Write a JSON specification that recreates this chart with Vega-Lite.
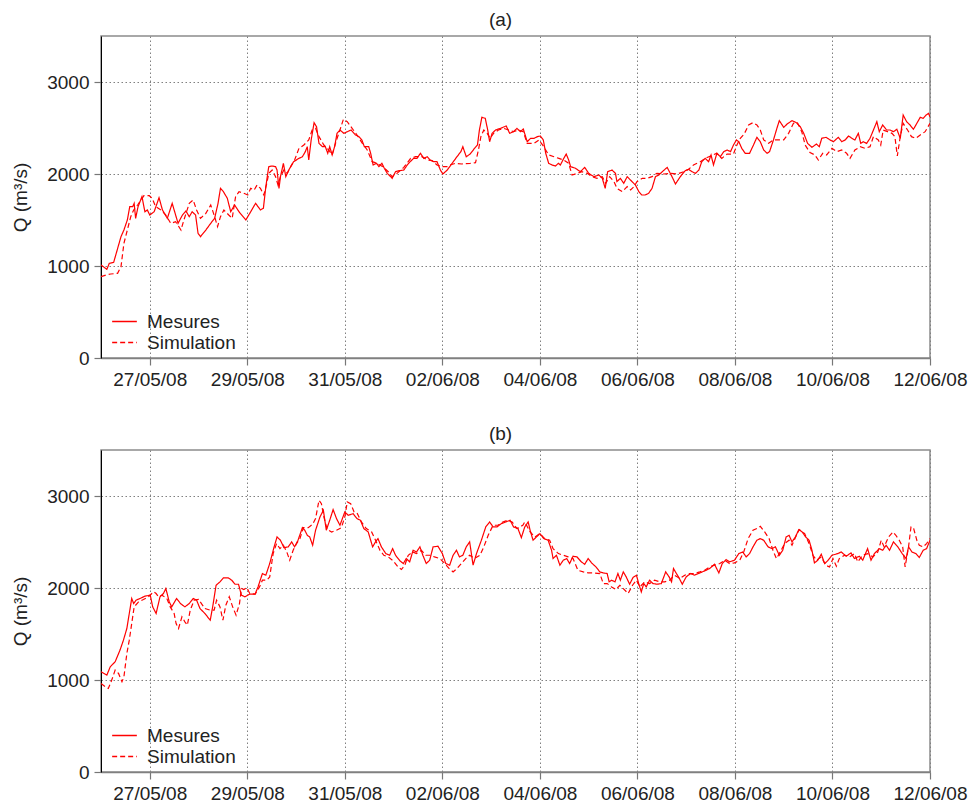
{
"$schema": "https://vega.github.io/schema/vega-lite/v6.json",
"padding": {"left": 10, "top": 10, "right": 5, "bottom": 5},
"config": {
  "font": "Liberation Sans",
  "view": {"stroke": "#8c8c8c", "strokeWidth": 1.5},
  "axis": {"labelFontSize": 19, "labelColor": "#222222", "titleFontSize": 19, "titleFontWeight": "normal", "titleColor": "#222222", "tickColor": "#777777", "tickSize": 7, "tickWidth": 1.2, "domainColor": "#808080", "domainWidth": 1.5, "gridColor": "#808080", "gridDash": [1.5, 2.5], "gridWidth": 1, "labelPadding": 5},
  "title": {"fontSize": 19, "fontWeight": "normal", "color": "#222222", "font": "Liberation Sans"},
  "legend": {"labelFontSize": 19, "labelColor": "#222222", "labelFont": "Liberation Sans"},
  "concat": {"spacing": 34}
},
"resolve": {"legend": {"strokeDash": "independent"}},
"datasets": {
"a": [
{"serie":"Mesures","jour":0,"Q":1011},{"serie":"Mesures","jour":0.12,"Q":964},{"serie":"Mesures","jour":0.17,"Q":1029},{"serie":"Mesures","jour":0.26,"Q":1040},{"serie":"Mesures","jour":0.41,"Q":1319},{"serie":"Mesures","jour":0.47,"Q":1391},{"serie":"Mesures","jour":0.54,"Q":1500},{"serie":"Mesures","jour":0.59,"Q":1645},{"serie":"Mesures","jour":0.65,"Q":1645},{"serie":"Mesures","jour":0.68,"Q":1681},{"serie":"Mesures","jour":0.71,"Q":1518},{"serie":"Mesures","jour":0.76,"Q":1645},{"serie":"Mesures","jour":0.84,"Q":1754},{"serie":"Mesures","jour":0.9,"Q":1590},{"serie":"Mesures","jour":0.95,"Q":1609},{"serie":"Mesures","jour":1.0,"Q":1554},{"serie":"Mesures","jour":1.09,"Q":1590},{"serie":"Mesures","jour":1.19,"Q":1743},{"serie":"Mesures","jour":1.26,"Q":1609},{"serie":"Mesures","jour":1.36,"Q":1518},{"serie":"Mesures","jour":1.46,"Q":1681},{"serie":"Mesures","jour":1.58,"Q":1464},{"serie":"Mesures","jour":1.67,"Q":1554},{"serie":"Mesures","jour":1.74,"Q":1598},{"serie":"Mesures","jour":1.81,"Q":1536},{"serie":"Mesures","jour":1.87,"Q":1590},{"serie":"Mesures","jour":1.94,"Q":1554},{"serie":"Mesures","jour":1.99,"Q":1355},{"serie":"Mesures","jour":2.04,"Q":1319},{"serie":"Mesures","jour":2.15,"Q":1391},{"serie":"Mesures","jour":2.25,"Q":1464},{"serie":"Mesures","jour":2.33,"Q":1518},{"serie":"Mesures","jour":2.4,"Q":1681},{"serie":"Mesures","jour":2.45,"Q":1844},{"serie":"Mesures","jour":2.51,"Q":1808},{"serie":"Mesures","jour":2.59,"Q":1736},{"serie":"Mesures","jour":2.66,"Q":1590},{"serie":"Mesures","jour":2.74,"Q":1663},{"serie":"Mesures","jour":2.83,"Q":1590},{"serie":"Mesures","jour":2.97,"Q":1500},{"serie":"Mesures","jour":3.07,"Q":1590},{"serie":"Mesures","jour":3.17,"Q":1681},{"serie":"Mesures","jour":3.27,"Q":1609},{"serie":"Mesures","jour":3.33,"Q":1627},{"serie":"Mesures","jour":3.38,"Q":1862},{"serie":"Mesures","jour":3.44,"Q":2080},{"serie":"Mesures","jour":3.51,"Q":2087},{"serie":"Mesures","jour":3.58,"Q":2080},{"serie":"Mesures","jour":3.61,"Q":2043},{"serie":"Mesures","jour":3.65,"Q":1844},{"serie":"Mesures","jour":3.68,"Q":1971},{"serie":"Mesures","jour":3.74,"Q":2116},{"serie":"Mesures","jour":3.79,"Q":1971},{"serie":"Mesures","jour":3.85,"Q":2043},{"serie":"Mesures","jour":3.95,"Q":2134},{"serie":"Mesures","jour":4.06,"Q":2170},{"serie":"Mesures","jour":4.13,"Q":2188},{"serie":"Mesures","jour":4.19,"Q":2243},{"serie":"Mesures","jour":4.23,"Q":2297},{"serie":"Mesures","jour":4.26,"Q":2152},{"serie":"Mesures","jour":4.31,"Q":2370},{"serie":"Mesures","jour":4.37,"Q":2558},{"serie":"Mesures","jour":4.42,"Q":2514},{"serie":"Mesures","jour":4.47,"Q":2333},{"serie":"Mesures","jour":4.54,"Q":2297},{"serie":"Mesures","jour":4.6,"Q":2297},{"serie":"Mesures","jour":4.65,"Q":2225},{"serie":"Mesures","jour":4.69,"Q":2297},{"serie":"Mesures","jour":4.74,"Q":2207},{"serie":"Mesures","jour":4.79,"Q":2297},{"serie":"Mesures","jour":4.84,"Q":2442},{"serie":"Mesures","jour":4.9,"Q":2478},{"serie":"Mesures","jour":4.98,"Q":2442},{"serie":"Mesures","jour":5.05,"Q":2460},{"serie":"Mesures","jour":5.13,"Q":2478},{"serie":"Mesures","jour":5.22,"Q":2424},{"serie":"Mesures","jour":5.29,"Q":2406},{"serie":"Mesures","jour":5.35,"Q":2370},{"serie":"Mesures","jour":5.4,"Q":2297},{"serie":"Mesures","jour":5.49,"Q":2297},{"serie":"Mesures","jour":5.53,"Q":2225},{"serie":"Mesures","jour":5.58,"Q":2098},{"serie":"Mesures","jour":5.65,"Q":2116},{"serie":"Mesures","jour":5.7,"Q":2080},{"serie":"Mesures","jour":5.76,"Q":2116},{"serie":"Mesures","jour":5.81,"Q":2062},{"serie":"Mesures","jour":5.87,"Q":2007},{"serie":"Mesures","jour":5.94,"Q":1971},{"serie":"Mesures","jour":5.97,"Q":1953},{"serie":"Mesures","jour":6.04,"Q":2025},{"serie":"Mesures","jour":6.11,"Q":2036},{"serie":"Mesures","jour":6.21,"Q":2043},{"serie":"Mesures","jour":6.28,"Q":2098},{"serie":"Mesures","jour":6.34,"Q":2134},{"serie":"Mesures","jour":6.41,"Q":2170},{"serie":"Mesures","jour":6.48,"Q":2170},{"serie":"Mesures","jour":6.55,"Q":2225},{"serie":"Mesures","jour":6.62,"Q":2170},{"serie":"Mesures","jour":6.69,"Q":2188},{"serie":"Mesures","jour":6.75,"Q":2152},{"serie":"Mesures","jour":6.82,"Q":2134},{"serie":"Mesures","jour":6.89,"Q":2134},{"serie":"Mesures","jour":6.96,"Q":2043},{"serie":"Mesures","jour":7.01,"Q":2000},{"serie":"Mesures","jour":7.1,"Q":2043},{"serie":"Mesures","jour":7.2,"Q":2116},{"serie":"Mesures","jour":7.3,"Q":2188},{"serie":"Mesures","jour":7.38,"Q":2243},{"serie":"Mesures","jour":7.42,"Q":2297},{"serie":"Mesures","jour":7.49,"Q":2188},{"serie":"Mesures","jour":7.57,"Q":2217},{"serie":"Mesures","jour":7.66,"Q":2279},{"serie":"Mesures","jour":7.72,"Q":2315},{"serie":"Mesures","jour":7.76,"Q":2478},{"serie":"Mesures","jour":7.81,"Q":2616},{"serie":"Mesures","jour":7.88,"Q":2605},{"serie":"Mesures","jour":7.93,"Q":2478},{"serie":"Mesures","jour":7.97,"Q":2351},{"serie":"Mesures","jour":8.02,"Q":2442},{"serie":"Mesures","jour":8.09,"Q":2478},{"serie":"Mesures","jour":8.19,"Q":2496},{"serie":"Mesures","jour":8.31,"Q":2522},{"serie":"Mesures","jour":8.38,"Q":2442},{"serie":"Mesures","jour":8.46,"Q":2460},{"serie":"Mesures","jour":8.53,"Q":2496},{"serie":"Mesures","jour":8.6,"Q":2460},{"serie":"Mesures","jour":8.66,"Q":2489},{"serie":"Mesures","jour":8.74,"Q":2351},{"serie":"Mesures","jour":8.81,"Q":2388},{"serie":"Mesures","jour":8.88,"Q":2388},{"serie":"Mesures","jour":8.95,"Q":2406},{"serie":"Mesures","jour":9.01,"Q":2413},{"serie":"Mesures","jour":9.07,"Q":2370},{"serie":"Mesures","jour":9.12,"Q":2225},{"serie":"Mesures","jour":9.18,"Q":2116},{"serie":"Mesures","jour":9.25,"Q":2098},{"serie":"Mesures","jour":9.32,"Q":2087},{"serie":"Mesures","jour":9.38,"Q":2116},{"serie":"Mesures","jour":9.42,"Q":2098},{"serie":"Mesures","jour":9.49,"Q":2170},{"serie":"Mesures","jour":9.54,"Q":2217},{"serie":"Mesures","jour":9.59,"Q":2152},{"serie":"Mesures","jour":9.63,"Q":2080},{"serie":"Mesures","jour":9.73,"Q":2062},{"serie":"Mesures","jour":9.83,"Q":2025},{"serie":"Mesures","jour":9.92,"Q":2072},{"serie":"Mesures","jour":10.0,"Q":2007},{"serie":"Mesures","jour":10.11,"Q":1971},{"serie":"Mesures","jour":10.21,"Q":1989},{"serie":"Mesures","jour":10.28,"Q":1953},{"serie":"Mesures","jour":10.34,"Q":1844},{"serie":"Mesures","jour":10.39,"Q":2025},{"serie":"Mesures","jour":10.48,"Q":2043},{"serie":"Mesures","jour":10.55,"Q":2007},{"serie":"Mesures","jour":10.58,"Q":1917},{"serie":"Mesures","jour":10.65,"Q":1953},{"serie":"Mesures","jour":10.72,"Q":1899},{"serie":"Mesures","jour":10.79,"Q":1971},{"serie":"Mesures","jour":10.89,"Q":1917},{"serie":"Mesures","jour":10.96,"Q":1880},{"serie":"Mesures","jour":11.03,"Q":1808},{"serie":"Mesures","jour":11.09,"Q":1772},{"serie":"Mesures","jour":11.16,"Q":1772},{"serie":"Mesures","jour":11.23,"Q":1790},{"serie":"Mesures","jour":11.3,"Q":1844},{"serie":"Mesures","jour":11.37,"Q":1971},{"serie":"Mesures","jour":11.44,"Q":1989},{"serie":"Mesures","jour":11.51,"Q":2025},{"serie":"Mesures","jour":11.61,"Q":2072},{"serie":"Mesures","jour":11.71,"Q":1971},{"serie":"Mesures","jour":11.78,"Q":1891},{"serie":"Mesures","jour":11.88,"Q":1971},{"serie":"Mesures","jour":11.98,"Q":2036},{"serie":"Mesures","jour":12.05,"Q":2051},{"serie":"Mesures","jour":12.12,"Q":2025},{"serie":"Mesures","jour":12.19,"Q":2007},{"serie":"Mesures","jour":12.26,"Q":2043},{"serie":"Mesures","jour":12.32,"Q":2134},{"serie":"Mesures","jour":12.39,"Q":2170},{"serie":"Mesures","jour":12.46,"Q":2134},{"serie":"Mesures","jour":12.51,"Q":2207},{"serie":"Mesures","jour":12.56,"Q":2098},{"serie":"Mesures","jour":12.63,"Q":2225},{"serie":"Mesures","jour":12.7,"Q":2188},{"serie":"Mesures","jour":12.77,"Q":2243},{"serie":"Mesures","jour":12.84,"Q":2261},{"serie":"Mesures","jour":12.91,"Q":2243},{"serie":"Mesures","jour":12.97,"Q":2315},{"serie":"Mesures","jour":13.03,"Q":2370},{"serie":"Mesures","jour":13.08,"Q":2351},{"serie":"Mesures","jour":13.14,"Q":2279},{"serie":"Mesures","jour":13.21,"Q":2225},{"serie":"Mesures","jour":13.3,"Q":2225},{"serie":"Mesures","jour":13.38,"Q":2315},{"serie":"Mesures","jour":13.45,"Q":2399},{"serie":"Mesures","jour":13.52,"Q":2351},{"serie":"Mesures","jour":13.59,"Q":2261},{"serie":"Mesures","jour":13.66,"Q":2225},{"serie":"Mesures","jour":13.71,"Q":2243},{"serie":"Mesures","jour":13.79,"Q":2370},{"serie":"Mesures","jour":13.86,"Q":2496},{"serie":"Mesures","jour":13.91,"Q":2580},{"serie":"Mesures","jour":14.0,"Q":2507},{"serie":"Mesures","jour":14.07,"Q":2543},{"serie":"Mesures","jour":14.17,"Q":2580},{"serie":"Mesures","jour":14.26,"Q":2558},{"serie":"Mesures","jour":14.34,"Q":2514},{"serie":"Mesures","jour":14.41,"Q":2442},{"serie":"Mesures","jour":14.49,"Q":2333},{"serie":"Mesures","jour":14.58,"Q":2290},{"serie":"Mesures","jour":14.67,"Q":2326},{"serie":"Mesures","jour":14.73,"Q":2297},{"serie":"Mesures","jour":14.78,"Q":2388},{"serie":"Mesures","jour":14.87,"Q":2399},{"serie":"Mesures","jour":14.95,"Q":2370},{"serie":"Mesures","jour":15.02,"Q":2351},{"serie":"Mesures","jour":15.12,"Q":2399},{"serie":"Mesures","jour":15.19,"Q":2351},{"serie":"Mesures","jour":15.26,"Q":2370},{"serie":"Mesures","jour":15.33,"Q":2413},{"serie":"Mesures","jour":15.4,"Q":2388},{"serie":"Mesures","jour":15.46,"Q":2370},{"serie":"Mesures","jour":15.53,"Q":2442},{"serie":"Mesures","jour":15.58,"Q":2333},{"serie":"Mesures","jour":15.63,"Q":2351},{"serie":"Mesures","jour":15.7,"Q":2333},{"serie":"Mesures","jour":15.77,"Q":2388},{"serie":"Mesures","jour":15.84,"Q":2478},{"serie":"Mesures","jour":15.91,"Q":2569},{"serie":"Mesures","jour":15.96,"Q":2460},{"serie":"Mesures","jour":16.03,"Q":2533},{"serie":"Mesures","jour":16.11,"Q":2478},{"serie":"Mesures","jour":16.18,"Q":2478},{"serie":"Mesures","jour":16.25,"Q":2460},{"serie":"Mesures","jour":16.32,"Q":2486},{"serie":"Mesures","jour":16.39,"Q":2388},{"serie":"Mesures","jour":16.45,"Q":2641},{"serie":"Mesures","jour":16.52,"Q":2569},{"serie":"Mesures","jour":16.59,"Q":2533},{"serie":"Mesures","jour":16.66,"Q":2486},{"serie":"Mesures","jour":16.73,"Q":2551},{"serie":"Mesures","jour":16.8,"Q":2616},{"serie":"Mesures","jour":16.86,"Q":2605},{"serie":"Mesures","jour":16.92,"Q":2641},{"serie":"Mesures","jour":16.97,"Q":2659},{"serie":"Mesures","jour":17.0,"Q":2620},
{"serie":"Simulation","jour":0,"Q":884},{"serie":"Simulation","jour":0.1,"Q":902},{"serie":"Simulation","jour":0.2,"Q":913},{"serie":"Simulation","jour":0.34,"Q":920},{"serie":"Simulation","jour":0.41,"Q":993},{"serie":"Simulation","jour":0.47,"Q":1246},{"serie":"Simulation","jour":0.54,"Q":1391},{"serie":"Simulation","jour":0.61,"Q":1536},{"serie":"Simulation","jour":0.67,"Q":1609},{"serie":"Simulation","jour":0.75,"Q":1663},{"serie":"Simulation","jour":0.82,"Q":1717},{"serie":"Simulation","jour":0.88,"Q":1764},{"serie":"Simulation","jour":0.99,"Q":1764},{"serie":"Simulation","jour":1.05,"Q":1736},{"serie":"Simulation","jour":1.12,"Q":1645},{"serie":"Simulation","jour":1.23,"Q":1609},{"serie":"Simulation","jour":1.33,"Q":1554},{"serie":"Simulation","jour":1.43,"Q":1464},{"serie":"Simulation","jour":1.53,"Q":1482},{"serie":"Simulation","jour":1.64,"Q":1391},{"serie":"Simulation","jour":1.7,"Q":1500},{"serie":"Simulation","jour":1.81,"Q":1681},{"serie":"Simulation","jour":1.89,"Q":1717},{"serie":"Simulation","jour":1.96,"Q":1609},{"serie":"Simulation","jour":2.04,"Q":1518},{"serie":"Simulation","jour":2.15,"Q":1572},{"serie":"Simulation","jour":2.25,"Q":1663},{"serie":"Simulation","jour":2.33,"Q":1536},{"serie":"Simulation","jour":2.39,"Q":1428},{"serie":"Simulation","jour":2.45,"Q":1536},{"serie":"Simulation","jour":2.52,"Q":1609},{"serie":"Simulation","jour":2.62,"Q":1554},{"serie":"Simulation","jour":2.69,"Q":1518},{"serie":"Simulation","jour":2.76,"Q":1754},{"serie":"Simulation","jour":2.83,"Q":1808},{"serie":"Simulation","jour":2.93,"Q":1790},{"serie":"Simulation","jour":3.01,"Q":1772},{"serie":"Simulation","jour":3.07,"Q":1844},{"serie":"Simulation","jour":3.14,"Q":1826},{"serie":"Simulation","jour":3.2,"Q":1880},{"serie":"Simulation","jour":3.27,"Q":1844},{"serie":"Simulation","jour":3.34,"Q":1772},{"serie":"Simulation","jour":3.4,"Q":1899},{"serie":"Simulation","jour":3.44,"Q":2007},{"serie":"Simulation","jour":3.51,"Q":2043},{"serie":"Simulation","jour":3.58,"Q":1971},{"serie":"Simulation","jour":3.63,"Q":1880},{"serie":"Simulation","jour":3.68,"Q":1971},{"serie":"Simulation","jour":3.75,"Q":2043},{"serie":"Simulation","jour":3.82,"Q":2007},{"serie":"Simulation","jour":3.89,"Q":2080},{"serie":"Simulation","jour":3.97,"Q":2152},{"serie":"Simulation","jour":4.06,"Q":2279},{"serie":"Simulation","jour":4.16,"Q":2315},{"serie":"Simulation","jour":4.26,"Q":2370},{"serie":"Simulation","jour":4.33,"Q":2478},{"serie":"Simulation","jour":4.4,"Q":2496},{"serie":"Simulation","jour":4.47,"Q":2406},{"serie":"Simulation","jour":4.57,"Q":2315},{"serie":"Simulation","jour":4.67,"Q":2261},{"serie":"Simulation","jour":4.74,"Q":2207},{"serie":"Simulation","jour":4.83,"Q":2370},{"serie":"Simulation","jour":4.9,"Q":2478},{"serie":"Simulation","jour":4.97,"Q":2594},{"serie":"Simulation","jour":5.05,"Q":2569},{"serie":"Simulation","jour":5.15,"Q":2496},{"serie":"Simulation","jour":5.25,"Q":2424},{"serie":"Simulation","jour":5.36,"Q":2333},{"serie":"Simulation","jour":5.46,"Q":2261},{"serie":"Simulation","jour":5.56,"Q":2134},{"serie":"Simulation","jour":5.66,"Q":2116},{"serie":"Simulation","jour":5.78,"Q":2080},{"serie":"Simulation","jour":5.89,"Q":2025},{"serie":"Simulation","jour":5.97,"Q":1971},{"serie":"Simulation","jour":6.07,"Q":2007},{"serie":"Simulation","jour":6.21,"Q":2072},{"serie":"Simulation","jour":6.35,"Q":2170},{"serie":"Simulation","jour":6.45,"Q":2188},{"serie":"Simulation","jour":6.58,"Q":2188},{"serie":"Simulation","jour":6.69,"Q":2152},{"serie":"Simulation","jour":6.79,"Q":2145},{"serie":"Simulation","jour":6.89,"Q":2098},{"serie":"Simulation","jour":6.99,"Q":2080},{"serie":"Simulation","jour":7.1,"Q":2080},{"serie":"Simulation","jour":7.16,"Q":2098},{"serie":"Simulation","jour":7.27,"Q":2116},{"serie":"Simulation","jour":7.4,"Q":2109},{"serie":"Simulation","jour":7.57,"Q":2116},{"serie":"Simulation","jour":7.68,"Q":2123},{"serie":"Simulation","jour":7.74,"Q":2261},{"serie":"Simulation","jour":7.79,"Q":2406},{"serie":"Simulation","jour":7.85,"Q":2478},{"serie":"Simulation","jour":7.92,"Q":2442},{"serie":"Simulation","jour":7.98,"Q":2388},{"serie":"Simulation","jour":8.05,"Q":2442},{"serie":"Simulation","jour":8.15,"Q":2478},{"serie":"Simulation","jour":8.26,"Q":2496},{"serie":"Simulation","jour":8.36,"Q":2478},{"serie":"Simulation","jour":8.46,"Q":2460},{"serie":"Simulation","jour":8.56,"Q":2478},{"serie":"Simulation","jour":8.66,"Q":2460},{"serie":"Simulation","jour":8.74,"Q":2333},{"serie":"Simulation","jour":8.88,"Q":2333},{"serie":"Simulation","jour":8.98,"Q":2370},{"serie":"Simulation","jour":9.08,"Q":2297},{"serie":"Simulation","jour":9.18,"Q":2207},{"serie":"Simulation","jour":9.29,"Q":2188},{"serie":"Simulation","jour":9.39,"Q":2170},{"serie":"Simulation","jour":9.49,"Q":2152},{"serie":"Simulation","jour":9.59,"Q":2116},{"serie":"Simulation","jour":9.66,"Q":1989},{"serie":"Simulation","jour":9.76,"Q":2007},{"serie":"Simulation","jour":9.86,"Q":2025},{"serie":"Simulation","jour":9.97,"Q":2007},{"serie":"Simulation","jour":10.07,"Q":1971},{"serie":"Simulation","jour":10.17,"Q":1953},{"serie":"Simulation","jour":10.28,"Q":1971},{"serie":"Simulation","jour":10.35,"Q":1899},{"serie":"Simulation","jour":10.43,"Q":1971},{"serie":"Simulation","jour":10.52,"Q":1917},{"serie":"Simulation","jour":10.58,"Q":1844},{"serie":"Simulation","jour":10.69,"Q":1808},{"serie":"Simulation","jour":10.79,"Q":1862},{"serie":"Simulation","jour":10.86,"Q":1826},{"serie":"Simulation","jour":10.93,"Q":1862},{"serie":"Simulation","jour":10.99,"Q":1917},{"serie":"Simulation","jour":11.1,"Q":1953},{"serie":"Simulation","jour":11.2,"Q":1953},{"serie":"Simulation","jour":11.3,"Q":1971},{"serie":"Simulation","jour":11.4,"Q":2007},{"serie":"Simulation","jour":11.54,"Q":2000},{"serie":"Simulation","jour":11.68,"Q":2007},{"serie":"Simulation","jour":11.81,"Q":2000},{"serie":"Simulation","jour":11.95,"Q":2025},{"serie":"Simulation","jour":12.05,"Q":2051},{"serie":"Simulation","jour":12.15,"Q":2098},{"serie":"Simulation","jour":12.29,"Q":2134},{"serie":"Simulation","jour":12.39,"Q":2170},{"serie":"Simulation","jour":12.5,"Q":2196},{"serie":"Simulation","jour":12.63,"Q":2225},{"serie":"Simulation","jour":12.73,"Q":2170},{"serie":"Simulation","jour":12.84,"Q":2217},{"serie":"Simulation","jour":12.97,"Q":2217},{"serie":"Simulation","jour":13.04,"Q":2315},{"serie":"Simulation","jour":13.11,"Q":2388},{"serie":"Simulation","jour":13.19,"Q":2435},{"serie":"Simulation","jour":13.28,"Q":2533},{"serie":"Simulation","jour":13.37,"Q":2558},{"serie":"Simulation","jour":13.45,"Q":2533},{"serie":"Simulation","jour":13.52,"Q":2478},{"serie":"Simulation","jour":13.59,"Q":2370},{"serie":"Simulation","jour":13.69,"Q":2333},{"serie":"Simulation","jour":13.79,"Q":2370},{"serie":"Simulation","jour":13.89,"Q":2370},{"serie":"Simulation","jour":14.0,"Q":2370},{"serie":"Simulation","jour":14.1,"Q":2442},{"serie":"Simulation","jour":14.2,"Q":2551},{"serie":"Simulation","jour":14.28,"Q":2558},{"serie":"Simulation","jour":14.37,"Q":2460},{"serie":"Simulation","jour":14.44,"Q":2315},{"serie":"Simulation","jour":14.54,"Q":2232},{"serie":"Simulation","jour":14.64,"Q":2207},{"serie":"Simulation","jour":14.71,"Q":2152},{"serie":"Simulation","jour":14.8,"Q":2225},{"serie":"Simulation","jour":14.88,"Q":2207},{"serie":"Simulation","jour":14.99,"Q":2279},{"serie":"Simulation","jour":15.09,"Q":2243},{"serie":"Simulation","jour":15.19,"Q":2261},{"serie":"Simulation","jour":15.29,"Q":2225},{"serie":"Simulation","jour":15.36,"Q":2170},{"serie":"Simulation","jour":15.46,"Q":2261},{"serie":"Simulation","jour":15.57,"Q":2297},{"serie":"Simulation","jour":15.67,"Q":2279},{"serie":"Simulation","jour":15.77,"Q":2297},{"serie":"Simulation","jour":15.84,"Q":2406},{"serie":"Simulation","jour":15.94,"Q":2370},{"serie":"Simulation","jour":15.99,"Q":2315},{"serie":"Simulation","jour":16.04,"Q":2478},{"serie":"Simulation","jour":16.13,"Q":2460},{"serie":"Simulation","jour":16.22,"Q":2442},{"serie":"Simulation","jour":16.28,"Q":2406},{"serie":"Simulation","jour":16.33,"Q":2196},{"serie":"Simulation","jour":16.39,"Q":2406},{"serie":"Simulation","jour":16.45,"Q":2551},{"serie":"Simulation","jour":16.54,"Q":2478},{"serie":"Simulation","jour":16.62,"Q":2406},{"serie":"Simulation","jour":16.71,"Q":2388},{"serie":"Simulation","jour":16.8,"Q":2424},{"serie":"Simulation","jour":16.9,"Q":2460},{"serie":"Simulation","jour":17.0,"Q":2551}
],
"b": [
{"serie":"Mesures","jour":0,"Q":1089},{"serie":"Mesures","jour":0.12,"Q":1053},{"serie":"Mesures","jour":0.19,"Q":1144},{"serie":"Mesures","jour":0.29,"Q":1198},{"serie":"Mesures","jour":0.39,"Q":1325},{"serie":"Mesures","jour":0.46,"Q":1433},{"serie":"Mesures","jour":0.53,"Q":1560},{"serie":"Mesures","jour":0.58,"Q":1723},{"serie":"Mesures","jour":0.63,"Q":1886},{"serie":"Mesures","jour":0.67,"Q":1831},{"serie":"Mesures","jour":0.72,"Q":1868},{"serie":"Mesures","jour":0.8,"Q":1886},{"serie":"Mesures","jour":0.9,"Q":1911},{"serie":"Mesures","jour":1.01,"Q":1922},{"serie":"Mesures","jour":1.06,"Q":1795},{"serie":"Mesures","jour":1.13,"Q":1723},{"serie":"Mesures","jour":1.21,"Q":1904},{"serie":"Mesures","jour":1.28,"Q":1940},{"serie":"Mesures","jour":1.33,"Q":1994},{"serie":"Mesures","jour":1.4,"Q":1849},{"serie":"Mesures","jour":1.45,"Q":1795},{"serie":"Mesures","jour":1.55,"Q":1886},{"serie":"Mesures","jour":1.63,"Q":1831},{"serie":"Mesures","jour":1.72,"Q":1795},{"serie":"Mesures","jour":1.81,"Q":1831},{"serie":"Mesures","jour":1.89,"Q":1886},{"serie":"Mesures","jour":1.96,"Q":1868},{"serie":"Mesures","jour":2.03,"Q":1777},{"serie":"Mesures","jour":2.13,"Q":1723},{"serie":"Mesures","jour":2.24,"Q":1650},{"serie":"Mesures","jour":2.29,"Q":1795},{"serie":"Mesures","jour":2.36,"Q":2030},{"serie":"Mesures","jour":2.44,"Q":2067},{"serie":"Mesures","jour":2.51,"Q":2110},{"serie":"Mesures","jour":2.61,"Q":2110},{"serie":"Mesures","jour":2.68,"Q":2085},{"serie":"Mesures","jour":2.75,"Q":2041},{"serie":"Mesures","jour":2.82,"Q":2041},{"serie":"Mesures","jour":2.88,"Q":1922},{"serie":"Mesures","jour":2.95,"Q":1904},{"serie":"Mesures","jour":3.05,"Q":1933},{"serie":"Mesures","jour":3.16,"Q":1933},{"serie":"Mesures","jour":3.22,"Q":2012},{"serie":"Mesures","jour":3.31,"Q":2157},{"serie":"Mesures","jour":3.38,"Q":2139},{"serie":"Mesures","jour":3.46,"Q":2266},{"serie":"Mesures","jour":3.55,"Q":2447},{"serie":"Mesures","jour":3.61,"Q":2555},{"serie":"Mesures","jour":3.68,"Q":2519},{"serie":"Mesures","jour":3.75,"Q":2439},{"serie":"Mesures","jour":3.84,"Q":2447},{"serie":"Mesures","jour":3.91,"Q":2501},{"serie":"Mesures","jour":3.97,"Q":2447},{"serie":"Mesures","jour":4.04,"Q":2519},{"serie":"Mesures","jour":4.13,"Q":2656},{"serie":"Mesures","jour":4.18,"Q":2627},{"serie":"Mesures","jour":4.23,"Q":2573},{"serie":"Mesures","jour":4.28,"Q":2555},{"serie":"Mesures","jour":4.34,"Q":2465},{"serie":"Mesures","jour":4.4,"Q":2628},{"serie":"Mesures","jour":4.49,"Q":2772},{"serie":"Mesures","jour":4.56,"Q":2845},{"serie":"Mesures","jour":4.62,"Q":2628},{"serie":"Mesures","jour":4.69,"Q":2736},{"serie":"Mesures","jour":4.76,"Q":2852},{"serie":"Mesures","jour":4.83,"Q":2754},{"serie":"Mesures","jour":4.9,"Q":2682},{"serie":"Mesures","jour":5.0,"Q":2827},{"serie":"Mesures","jour":5.07,"Q":2790},{"serie":"Mesures","jour":5.17,"Q":2808},{"serie":"Mesures","jour":5.25,"Q":2754},{"serie":"Mesures","jour":5.32,"Q":2736},{"serie":"Mesures","jour":5.39,"Q":2646},{"serie":"Mesures","jour":5.48,"Q":2609},{"serie":"Mesures","jour":5.57,"Q":2447},{"serie":"Mesures","jour":5.63,"Q":2501},{"serie":"Mesures","jour":5.68,"Q":2537},{"serie":"Mesures","jour":5.75,"Q":2447},{"serie":"Mesures","jour":5.84,"Q":2374},{"serie":"Mesures","jour":5.92,"Q":2356},{"serie":"Mesures","jour":5.98,"Q":2428},{"serie":"Mesures","jour":6.04,"Q":2356},{"serie":"Mesures","jour":6.13,"Q":2295},{"serie":"Mesures","jour":6.2,"Q":2266},{"serie":"Mesures","jour":6.26,"Q":2320},{"serie":"Mesures","jour":6.33,"Q":2284},{"serie":"Mesures","jour":6.4,"Q":2410},{"serie":"Mesures","jour":6.47,"Q":2392},{"serie":"Mesures","jour":6.54,"Q":2447},{"serie":"Mesures","jour":6.6,"Q":2356},{"serie":"Mesures","jour":6.67,"Q":2266},{"serie":"Mesures","jour":6.74,"Q":2302},{"serie":"Mesures","jour":6.81,"Q":2447},{"serie":"Mesures","jour":6.91,"Q":2454},{"serie":"Mesures","jour":7.0,"Q":2374},{"serie":"Mesures","jour":7.07,"Q":2266},{"serie":"Mesures","jour":7.15,"Q":2248},{"serie":"Mesures","jour":7.22,"Q":2356},{"serie":"Mesures","jour":7.29,"Q":2410},{"serie":"Mesures","jour":7.35,"Q":2338},{"serie":"Mesures","jour":7.42,"Q":2356},{"serie":"Mesures","jour":7.49,"Q":2447},{"serie":"Mesures","jour":7.56,"Q":2501},{"serie":"Mesures","jour":7.63,"Q":2248},{"serie":"Mesures","jour":7.7,"Q":2374},{"serie":"Mesures","jour":7.8,"Q":2519},{"serie":"Mesures","jour":7.89,"Q":2664},{"serie":"Mesures","jour":7.97,"Q":2718},{"serie":"Mesures","jour":8.04,"Q":2664},{"serie":"Mesures","jour":8.12,"Q":2664},{"serie":"Mesures","jour":8.21,"Q":2700},{"serie":"Mesures","jour":8.3,"Q":2718},{"serie":"Mesures","jour":8.39,"Q":2736},{"serie":"Mesures","jour":8.46,"Q":2664},{"serie":"Mesures","jour":8.55,"Q":2646},{"serie":"Mesures","jour":8.62,"Q":2548},{"serie":"Mesures","jour":8.69,"Q":2664},{"serie":"Mesures","jour":8.76,"Q":2718},{"serie":"Mesures","jour":8.8,"Q":2627},{"serie":"Mesures","jour":8.86,"Q":2519},{"serie":"Mesures","jour":8.93,"Q":2555},{"serie":"Mesures","jour":9.0,"Q":2591},{"serie":"Mesures","jour":9.08,"Q":2537},{"serie":"Mesures","jour":9.17,"Q":2519},{"serie":"Mesures","jour":9.24,"Q":2410},{"serie":"Mesures","jour":9.27,"Q":2320},{"serie":"Mesures","jour":9.34,"Q":2356},{"serie":"Mesures","jour":9.41,"Q":2248},{"serie":"Mesures","jour":9.48,"Q":2302},{"serie":"Mesures","jour":9.55,"Q":2320},{"serie":"Mesures","jour":9.61,"Q":2266},{"serie":"Mesures","jour":9.68,"Q":2345},{"serie":"Mesures","jour":9.76,"Q":2338},{"serie":"Mesures","jour":9.85,"Q":2284},{"serie":"Mesures","jour":9.92,"Q":2258},{"serie":"Mesures","jour":9.99,"Q":2320},{"serie":"Mesures","jour":10.06,"Q":2273},{"serie":"Mesures","jour":10.15,"Q":2229},{"serie":"Mesures","jour":10.23,"Q":2175},{"serie":"Mesures","jour":10.3,"Q":2164},{"serie":"Mesures","jour":10.38,"Q":2157},{"serie":"Mesures","jour":10.42,"Q":2067},{"serie":"Mesures","jour":10.47,"Q":2085},{"serie":"Mesures","jour":10.54,"Q":2067},{"serie":"Mesures","jour":10.6,"Q":2157},{"serie":"Mesures","jour":10.65,"Q":2085},{"serie":"Mesures","jour":10.71,"Q":2175},{"serie":"Mesures","jour":10.77,"Q":2121},{"serie":"Mesures","jour":10.84,"Q":2041},{"serie":"Mesures","jour":10.91,"Q":2114},{"serie":"Mesures","jour":10.98,"Q":2139},{"serie":"Mesures","jour":11.03,"Q":2041},{"serie":"Mesures","jour":11.08,"Q":1958},{"serie":"Mesures","jour":11.13,"Q":2048},{"serie":"Mesures","jour":11.18,"Q":2012},{"serie":"Mesures","jour":11.25,"Q":2085},{"serie":"Mesures","jour":11.32,"Q":2048},{"serie":"Mesures","jour":11.4,"Q":2041},{"serie":"Mesures","jour":11.49,"Q":2048},{"serie":"Mesures","jour":11.58,"Q":2175},{"serie":"Mesures","jour":11.65,"Q":2121},{"serie":"Mesures","jour":11.7,"Q":2067},{"serie":"Mesures","jour":11.74,"Q":2211},{"serie":"Mesures","jour":11.8,"Q":2157},{"serie":"Mesures","jour":11.85,"Q":2114},{"serie":"Mesures","jour":11.92,"Q":2041},{"serie":"Mesures","jour":12.0,"Q":2121},{"serie":"Mesures","jour":12.09,"Q":2157},{"serie":"Mesures","jour":12.17,"Q":2139},{"serie":"Mesures","jour":12.28,"Q":2164},{"serie":"Mesures","jour":12.38,"Q":2186},{"serie":"Mesures","jour":12.48,"Q":2211},{"serie":"Mesures","jour":12.58,"Q":2258},{"serie":"Mesures","jour":12.67,"Q":2164},{"serie":"Mesures","jour":12.74,"Q":2266},{"serie":"Mesures","jour":12.82,"Q":2309},{"serie":"Mesures","jour":12.89,"Q":2284},{"serie":"Mesures","jour":12.99,"Q":2302},{"serie":"Mesures","jour":13.08,"Q":2374},{"serie":"Mesures","jour":13.16,"Q":2392},{"serie":"Mesures","jour":13.23,"Q":2338},{"serie":"Mesures","jour":13.3,"Q":2374},{"serie":"Mesures","jour":13.37,"Q":2447},{"serie":"Mesures","jour":13.45,"Q":2519},{"serie":"Mesures","jour":13.52,"Q":2537},{"serie":"Mesures","jour":13.59,"Q":2519},{"serie":"Mesures","jour":13.68,"Q":2447},{"serie":"Mesures","jour":13.76,"Q":2428},{"serie":"Mesures","jour":13.83,"Q":2447},{"serie":"Mesures","jour":13.91,"Q":2356},{"serie":"Mesures","jour":13.98,"Q":2410},{"serie":"Mesures","jour":14.05,"Q":2555},{"serie":"Mesures","jour":14.11,"Q":2573},{"serie":"Mesures","jour":14.17,"Q":2501},{"serie":"Mesures","jour":14.24,"Q":2555},{"serie":"Mesures","jour":14.31,"Q":2635},{"serie":"Mesures","jour":14.38,"Q":2609},{"serie":"Mesures","jour":14.45,"Q":2555},{"serie":"Mesures","jour":14.52,"Q":2519},{"serie":"Mesures","jour":14.58,"Q":2410},{"serie":"Mesures","jour":14.63,"Q":2273},{"serie":"Mesures","jour":14.7,"Q":2302},{"serie":"Mesures","jour":14.77,"Q":2367},{"serie":"Mesures","jour":14.84,"Q":2266},{"serie":"Mesures","jour":14.9,"Q":2295},{"serie":"Mesures","jour":14.99,"Q":2356},{"serie":"Mesures","jour":15.11,"Q":2374},{"serie":"Mesures","jour":15.18,"Q":2392},{"serie":"Mesures","jour":15.28,"Q":2345},{"serie":"Mesures","jour":15.38,"Q":2381},{"serie":"Mesures","jour":15.45,"Q":2320},{"serie":"Mesures","jour":15.55,"Q":2345},{"serie":"Mesures","jour":15.62,"Q":2302},{"serie":"Mesures","jour":15.72,"Q":2428},{"serie":"Mesures","jour":15.79,"Q":2302},{"serie":"Mesures","jour":15.86,"Q":2374},{"serie":"Mesures","jour":15.96,"Q":2428},{"serie":"Mesures","jour":16.03,"Q":2410},{"serie":"Mesures","jour":16.1,"Q":2465},{"serie":"Mesures","jour":16.17,"Q":2410},{"serie":"Mesures","jour":16.25,"Q":2501},{"serie":"Mesures","jour":16.34,"Q":2447},{"serie":"Mesures","jour":16.43,"Q":2374},{"serie":"Mesures","jour":16.51,"Q":2320},{"serie":"Mesures","jour":16.56,"Q":2447},{"serie":"Mesures","jour":16.63,"Q":2392},{"serie":"Mesures","jour":16.71,"Q":2374},{"serie":"Mesures","jour":16.78,"Q":2331},{"serie":"Mesures","jour":16.86,"Q":2410},{"serie":"Mesures","jour":16.93,"Q":2428},{"serie":"Mesures","jour":17.0,"Q":2519},
{"serie":"Simulation","jour":0,"Q":963},{"serie":"Simulation","jour":0.09,"Q":926},{"serie":"Simulation","jour":0.15,"Q":908},{"serie":"Simulation","jour":0.22,"Q":999},{"serie":"Simulation","jour":0.29,"Q":1107},{"serie":"Simulation","jour":0.36,"Q":1071},{"serie":"Simulation","jour":0.43,"Q":981},{"serie":"Simulation","jour":0.47,"Q":1035},{"serie":"Simulation","jour":0.53,"Q":1288},{"serie":"Simulation","jour":0.58,"Q":1433},{"serie":"Simulation","jour":0.63,"Q":1614},{"serie":"Simulation","jour":0.68,"Q":1795},{"serie":"Simulation","jour":0.77,"Q":1849},{"serie":"Simulation","jour":0.87,"Q":1875},{"serie":"Simulation","jour":0.97,"Q":1904},{"serie":"Simulation","jour":1.08,"Q":1958},{"serie":"Simulation","jour":1.13,"Q":1940},{"serie":"Simulation","jour":1.18,"Q":1904},{"serie":"Simulation","jour":1.25,"Q":1922},{"serie":"Simulation","jour":1.35,"Q":1886},{"serie":"Simulation","jour":1.42,"Q":1795},{"serie":"Simulation","jour":1.5,"Q":1723},{"serie":"Simulation","jour":1.54,"Q":1614},{"serie":"Simulation","jour":1.59,"Q":1560},{"serie":"Simulation","jour":1.66,"Q":1687},{"serie":"Simulation","jour":1.72,"Q":1632},{"serie":"Simulation","jour":1.77,"Q":1596},{"serie":"Simulation","jour":1.83,"Q":1759},{"serie":"Simulation","jour":1.91,"Q":1868},{"serie":"Simulation","jour":2.0,"Q":1875},{"serie":"Simulation","jour":2.06,"Q":1831},{"serie":"Simulation","jour":2.13,"Q":1777},{"serie":"Simulation","jour":2.24,"Q":1759},{"serie":"Simulation","jour":2.32,"Q":1759},{"serie":"Simulation","jour":2.37,"Q":1868},{"serie":"Simulation","jour":2.44,"Q":1795},{"serie":"Simulation","jour":2.5,"Q":1650},{"serie":"Simulation","jour":2.56,"Q":1813},{"serie":"Simulation","jour":2.63,"Q":1904},{"serie":"Simulation","jour":2.7,"Q":1795},{"serie":"Simulation","jour":2.77,"Q":1705},{"serie":"Simulation","jour":2.84,"Q":1831},{"serie":"Simulation","jour":2.88,"Q":1994},{"serie":"Simulation","jour":2.93,"Q":1983},{"serie":"Simulation","jour":2.99,"Q":2005},{"serie":"Simulation","jour":3.05,"Q":1940},{"serie":"Simulation","jour":3.16,"Q":1933},{"serie":"Simulation","jour":3.25,"Q":2012},{"serie":"Simulation","jour":3.31,"Q":2085},{"serie":"Simulation","jour":3.4,"Q":2085},{"serie":"Simulation","jour":3.46,"Q":2121},{"serie":"Simulation","jour":3.53,"Q":2374},{"serie":"Simulation","jour":3.6,"Q":2483},{"serie":"Simulation","jour":3.67,"Q":2428},{"serie":"Simulation","jour":3.74,"Q":2465},{"serie":"Simulation","jour":3.81,"Q":2392},{"serie":"Simulation","jour":3.87,"Q":2302},{"serie":"Simulation","jour":3.94,"Q":2410},{"serie":"Simulation","jour":4.01,"Q":2483},{"serie":"Simulation","jour":4.08,"Q":2537},{"serie":"Simulation","jour":4.15,"Q":2656},{"serie":"Simulation","jour":4.25,"Q":2656},{"serie":"Simulation","jour":4.34,"Q":2693},{"serie":"Simulation","jour":4.4,"Q":2754},{"serie":"Simulation","jour":4.47,"Q":2953},{"serie":"Simulation","jour":4.52,"Q":2917},{"serie":"Simulation","jour":4.57,"Q":2772},{"serie":"Simulation","jour":4.64,"Q":2635},{"serie":"Simulation","jour":4.73,"Q":2609},{"serie":"Simulation","jour":4.83,"Q":2628},{"serie":"Simulation","jour":4.93,"Q":2656},{"serie":"Simulation","jour":5.0,"Q":2772},{"serie":"Simulation","jour":5.05,"Q":2935},{"serie":"Simulation","jour":5.12,"Q":2917},{"serie":"Simulation","jour":5.19,"Q":2827},{"serie":"Simulation","jour":5.25,"Q":2816},{"serie":"Simulation","jour":5.34,"Q":2718},{"serie":"Simulation","jour":5.44,"Q":2646},{"serie":"Simulation","jour":5.55,"Q":2609},{"serie":"Simulation","jour":5.63,"Q":2519},{"serie":"Simulation","jour":5.72,"Q":2410},{"serie":"Simulation","jour":5.8,"Q":2356},{"serie":"Simulation","jour":5.89,"Q":2338},{"serie":"Simulation","jour":5.99,"Q":2295},{"serie":"Simulation","jour":6.09,"Q":2229},{"serie":"Simulation","jour":6.16,"Q":2201},{"serie":"Simulation","jour":6.23,"Q":2247},{"serie":"Simulation","jour":6.3,"Q":2356},{"serie":"Simulation","jour":6.39,"Q":2392},{"serie":"Simulation","jour":6.47,"Q":2374},{"serie":"Simulation","jour":6.57,"Q":2410},{"serie":"Simulation","jour":6.66,"Q":2356},{"serie":"Simulation","jour":6.74,"Q":2356},{"serie":"Simulation","jour":6.84,"Q":2338},{"serie":"Simulation","jour":6.95,"Q":2320},{"serie":"Simulation","jour":7.05,"Q":2266},{"serie":"Simulation","jour":7.14,"Q":2211},{"serie":"Simulation","jour":7.22,"Q":2175},{"serie":"Simulation","jour":7.3,"Q":2211},{"serie":"Simulation","jour":7.39,"Q":2266},{"serie":"Simulation","jour":7.48,"Q":2320},{"serie":"Simulation","jour":7.56,"Q":2356},{"serie":"Simulation","jour":7.66,"Q":2320},{"serie":"Simulation","jour":7.77,"Q":2356},{"serie":"Simulation","jour":7.85,"Q":2447},{"serie":"Simulation","jour":7.94,"Q":2573},{"serie":"Simulation","jour":8.04,"Q":2682},{"serie":"Simulation","jour":8.14,"Q":2682},{"serie":"Simulation","jour":8.24,"Q":2718},{"serie":"Simulation","jour":8.34,"Q":2736},{"serie":"Simulation","jour":8.43,"Q":2718},{"serie":"Simulation","jour":8.53,"Q":2646},{"serie":"Simulation","jour":8.65,"Q":2682},{"serie":"Simulation","jour":8.69,"Q":2718},{"serie":"Simulation","jour":8.8,"Q":2609},{"serie":"Simulation","jour":8.9,"Q":2555},{"serie":"Simulation","jour":9.0,"Q":2591},{"serie":"Simulation","jour":9.1,"Q":2537},{"serie":"Simulation","jour":9.2,"Q":2519},{"serie":"Simulation","jour":9.27,"Q":2428},{"serie":"Simulation","jour":9.38,"Q":2374},{"serie":"Simulation","jour":9.48,"Q":2356},{"serie":"Simulation","jour":9.58,"Q":2338},{"serie":"Simulation","jour":9.68,"Q":2320},{"serie":"Simulation","jour":9.78,"Q":2193},{"serie":"Simulation","jour":9.89,"Q":2175},{"serie":"Simulation","jour":9.99,"Q":2164},{"serie":"Simulation","jour":10.11,"Q":2164},{"serie":"Simulation","jour":10.23,"Q":2157},{"serie":"Simulation","jour":10.3,"Q":2048},{"serie":"Simulation","jour":10.38,"Q":2048},{"serie":"Simulation","jour":10.47,"Q":2012},{"serie":"Simulation","jour":10.56,"Q":1983},{"serie":"Simulation","jour":10.64,"Q":2030},{"serie":"Simulation","jour":10.71,"Q":1994},{"serie":"Simulation","jour":10.81,"Q":1940},{"serie":"Simulation","jour":10.9,"Q":2030},{"serie":"Simulation","jour":10.98,"Q":2085},{"serie":"Simulation","jour":11.05,"Q":2012},{"serie":"Simulation","jour":11.15,"Q":2067},{"serie":"Simulation","jour":11.25,"Q":2048},{"serie":"Simulation","jour":11.35,"Q":2085},{"serie":"Simulation","jour":11.46,"Q":2067},{"serie":"Simulation","jour":11.56,"Q":2067},{"serie":"Simulation","jour":11.66,"Q":2085},{"serie":"Simulation","jour":11.76,"Q":2139},{"serie":"Simulation","jour":11.87,"Q":2103},{"serie":"Simulation","jour":11.97,"Q":2139},{"serie":"Simulation","jour":12.07,"Q":2157},{"serie":"Simulation","jour":12.17,"Q":2157},{"serie":"Simulation","jour":12.28,"Q":2175},{"serie":"Simulation","jour":12.38,"Q":2193},{"serie":"Simulation","jour":12.48,"Q":2229},{"serie":"Simulation","jour":12.58,"Q":2248},{"serie":"Simulation","jour":12.69,"Q":2266},{"serie":"Simulation","jour":12.79,"Q":2302},{"serie":"Simulation","jour":12.89,"Q":2266},{"serie":"Simulation","jour":12.99,"Q":2273},{"serie":"Simulation","jour":13.1,"Q":2302},{"serie":"Simulation","jour":13.18,"Q":2392},{"serie":"Simulation","jour":13.27,"Q":2537},{"serie":"Simulation","jour":13.37,"Q":2628},{"serie":"Simulation","jour":13.45,"Q":2646},{"serie":"Simulation","jour":13.52,"Q":2671},{"serie":"Simulation","jour":13.61,"Q":2609},{"serie":"Simulation","jour":13.7,"Q":2537},{"serie":"Simulation","jour":13.78,"Q":2410},{"serie":"Simulation","jour":13.85,"Q":2320},{"serie":"Simulation","jour":13.91,"Q":2374},{"serie":"Simulation","jour":14.02,"Q":2483},{"serie":"Simulation","jour":14.11,"Q":2519},{"serie":"Simulation","jour":14.17,"Q":2465},{"serie":"Simulation","jour":14.26,"Q":2573},{"serie":"Simulation","jour":14.32,"Q":2635},{"serie":"Simulation","jour":14.43,"Q":2591},{"serie":"Simulation","jour":14.52,"Q":2483},{"serie":"Simulation","jour":14.6,"Q":2356},{"serie":"Simulation","jour":14.67,"Q":2302},{"serie":"Simulation","jour":14.77,"Q":2338},{"serie":"Simulation","jour":14.86,"Q":2248},{"serie":"Simulation","jour":14.94,"Q":2229},{"serie":"Simulation","jour":15.01,"Q":2320},{"serie":"Simulation","jour":15.08,"Q":2237},{"serie":"Simulation","jour":15.14,"Q":2320},{"serie":"Simulation","jour":15.25,"Q":2356},{"serie":"Simulation","jour":15.35,"Q":2338},{"serie":"Simulation","jour":15.45,"Q":2374},{"serie":"Simulation","jour":15.52,"Q":2284},{"serie":"Simulation","jour":15.62,"Q":2356},{"serie":"Simulation","jour":15.72,"Q":2374},{"serie":"Simulation","jour":15.83,"Q":2338},{"serie":"Simulation","jour":15.93,"Q":2392},{"serie":"Simulation","jour":16.0,"Q":2519},{"serie":"Simulation","jour":16.06,"Q":2447},{"serie":"Simulation","jour":16.15,"Q":2555},{"serie":"Simulation","jour":16.24,"Q":2609},{"serie":"Simulation","jour":16.3,"Q":2573},{"serie":"Simulation","jour":16.37,"Q":2519},{"serie":"Simulation","jour":16.44,"Q":2447},{"serie":"Simulation","jour":16.49,"Q":2229},{"serie":"Simulation","jour":16.56,"Q":2447},{"serie":"Simulation","jour":16.61,"Q":2664},{"serie":"Simulation","jour":16.66,"Q":2656},{"serie":"Simulation","jour":16.73,"Q":2519},{"serie":"Simulation","jour":16.78,"Q":2465},{"serie":"Simulation","jour":16.86,"Q":2447},{"serie":"Simulation","jour":16.93,"Q":2483},{"serie":"Simulation","jour":17.0,"Q":2537}
]
},
"vconcat": [
{
  "width": 829, "height": 322,
  "data": {"name": "a"},
  "title": {"text": "(a)", "dx": -15, "offset": 6},
  "mark": {"type": "line", "color": "#ff0000", "strokeWidth": 1.2, "clip": true},
  "encoding": {
    "x": {"field": "jour", "type": "quantitative", "scale": {"domain": [0, 17], "nice": false, "zero": false},
      "axis": {"values": [1, 3, 5, 7, 9, 11, 13, 15, 17], "labelExpr": "timeFormat(datetime(2008, 4, 26 + datum.value), '%d/%m/%y')", "title": null, "labelFlush": false}},
    "y": {"field": "Q", "type": "quantitative", "scale": {"domain": [0, 3500], "nice": false},
      "axis": {"values": [0, 1000, 2000, 3000], "format": "d", "title": "Q (m³/s)", "domainColor": "#000000", "domainWidth": 1, "titlePadding": 16.5}},
    "strokeDash": {"field": "serie", "type": "nominal", "scale": {"domain": ["Mesures", "Simulation"], "range": [[1, 0], [5, 3]]},
      "legend": {"orient": "none", "legendX": 13, "legendY": 275, "title": null, "padding": 0, "rowPadding": 0, "symbolType": "M-1.3,0H1.3", "symbolSize": 361, "symbolStrokeWidth": 1.3, "symbolStrokeColor": "#ff0000", "labelOffset": 12}},
    "order": {"field": "jour", "type": "quantitative"}
  }
},
{
  "width": 829, "height": 322,
  "data": {"name": "b"},
  "title": {"text": "(b)", "dx": -15, "offset": 6},
  "mark": {"type": "line", "color": "#ff0000", "strokeWidth": 1.2, "clip": true},
  "encoding": {
    "x": {"field": "jour", "type": "quantitative", "scale": {"domain": [0, 17], "nice": false, "zero": false},
      "axis": {"values": [1, 3, 5, 7, 9, 11, 13, 15, 17], "labelExpr": "timeFormat(datetime(2008, 4, 26 + datum.value), '%d/%m/%y')", "title": null, "labelFlush": false}},
    "y": {"field": "Q", "type": "quantitative", "scale": {"domain": [0, 3500], "nice": false},
      "axis": {"values": [0, 1000, 2000, 3000], "format": "d", "title": "Q (m³/s)", "domainColor": "#000000", "domainWidth": 1, "titlePadding": 16.5}},
    "strokeDash": {"field": "serie", "type": "nominal", "scale": {"domain": ["Mesures", "Simulation"], "range": [[1, 0], [5, 3]]},
      "legend": {"orient": "none", "legendX": 13, "legendY": 275, "title": null, "padding": 0, "rowPadding": 0, "symbolType": "M-1.3,0H1.3", "symbolSize": 361, "symbolStrokeWidth": 1.3, "symbolStrokeColor": "#ff0000", "labelOffset": 12}},
    "order": {"field": "jour", "type": "quantitative"}
  }
}
]
}
